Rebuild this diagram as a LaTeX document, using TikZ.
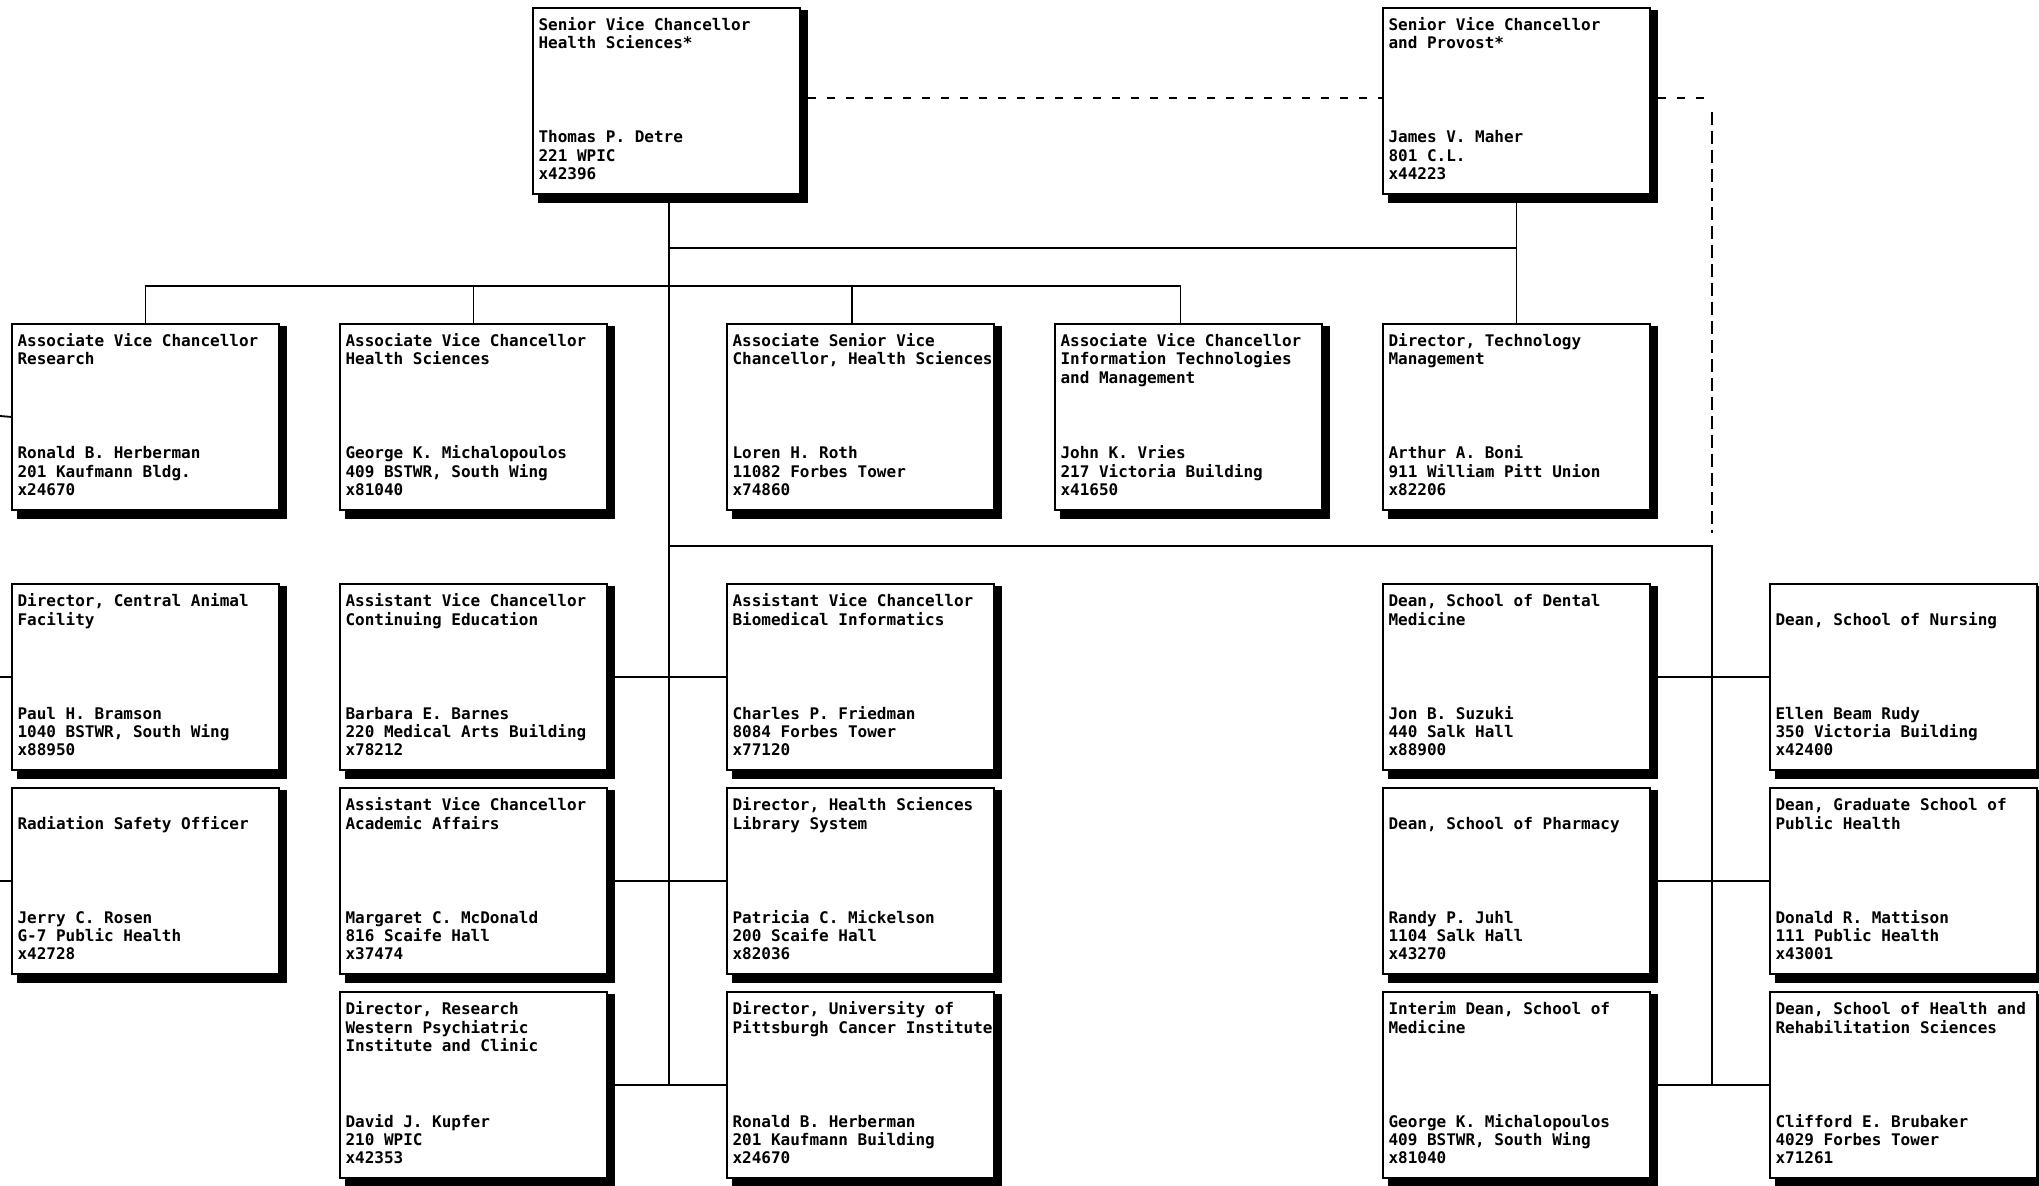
\documentclass[tikz,border=0pt]{standalone}
\usepackage{fontspec}
\newfontfamily\chartfont{DejaVu Sans Mono Bold}
\usetikzlibrary{calc}
\newcommand\bxl[1]{\hbox to 133.5pt{\kern2.75pt\vrule height9.1pt depth0pt width0pt\smash{#1}\hss}}
\newcommand\orgbox[5]{%
  \fill[black,shift={(#2,#3)}] (5,2) rectangle (275,195);
  \node[orgnode,anchor=north west] (#1) at (#2,#3)
    {\vbox to 93pt{\offinterlineskip\kern2.3pt #4\vfill #5\kern7.3pt}};
}
\tikzset{
  orgnode/.style={draw=black,fill=white,line width=0.6pt,inner sep=0pt,outer sep=0pt,
    font={\chartfont\fontsize{8pt}{9.1pt}\selectfont}},
  conn/.style={line width=0.9pt,black},
  dashH/.style={line width=0.65pt,black,dash pattern=on 4pt off 5.5pt},
  dashV/.style={line width=0.75pt,black,dash pattern=on 6.5pt off 3pt}
}
\begin{document}
\begin{tikzpicture}[x=0.5pt,y=-0.5pt]
\fill[white] (0,0) rectangle (2039,1186);
\useasboundingbox (0,0) rectangle (2039,1186);

% top level
\orgbox{A}{533}{8}{\bxl{Senior Vice Chancellor}\bxl{Health Sciences*}}{\bxl{Thomas P. Detre}\bxl{221 WPIC}\bxl{x42396}}
\orgbox{B}{1383}{8}{\bxl{Senior Vice Chancellor}\bxl{and Provost*}}{\bxl{James V. Maher}\bxl{801 C.L.}\bxl{x44223}}

% row 2
\orgbox{R1}{12}{324}{\bxl{Associate Vice Chancellor}\bxl{Research}}{\bxl{Ronald B. Herberman}\bxl{201 Kaufmann Bldg.}\bxl{x24670}}
\orgbox{R2}{340}{324}{\bxl{Associate Vice Chancellor}\bxl{Health Sciences}}{\bxl{George K. Michalopoulos}\bxl{409 BSTWR, South Wing}\bxl{x81040}}
\orgbox{R3}{727}{324}{\bxl{Associate Senior Vice}\bxl{Chancellor, Health Sciences}}{\bxl{Loren H. Roth}\bxl{11082 Forbes Tower}\bxl{x74860}}
\orgbox{R4}{1055}{324}{\bxl{Associate Vice Chancellor}\bxl{Information Technologies}\bxl{and Management}}{\bxl{John K. Vries}\bxl{217 Victoria Building}\bxl{x41650}}
\orgbox{R5}{1383}{324}{\bxl{Director, Technology}\bxl{Management}}{\bxl{Arthur A. Boni}\bxl{911 William Pitt Union}\bxl{x82206}}

% row 3
\orgbox{La}{12}{584}{\bxl{Director, Central Animal}\bxl{Facility}}{\bxl{Paul H. Bramson}\bxl{1040 BSTWR, South Wing}\bxl{x88950}}
\orgbox{Ma}{340}{584}{\bxl{Assistant Vice Chancellor}\bxl{Continuing Education}}{\bxl{Barbara E. Barnes}\bxl{220 Medical Arts Building}\bxl{x78212}}
\orgbox{Na}{727}{584}{\bxl{Assistant Vice Chancellor}\bxl{Biomedical Informatics}}{\bxl{Charles P. Friedman}\bxl{8084 Forbes Tower}\bxl{x77120}}
\orgbox{Pa}{1383}{584}{\bxl{Dean, School of Dental}\bxl{Medicine}}{\bxl{Jon B. Suzuki}\bxl{440 Salk Hall}\bxl{x88900}}
\orgbox{Qa}{1770}{584}{\bxl{}\bxl{Dean, School of Nursing}}{\bxl{Ellen Beam Rudy}\bxl{350 Victoria Building}\bxl{x42400}}

% row 4
\orgbox{Lb}{12}{788}{\bxl{}\bxl{Radiation Safety Officer}}{\bxl{Jerry C. Rosen}\bxl{G-7 Public Health}\bxl{x42728}}
\orgbox{Mb}{340}{788}{\bxl{Assistant Vice Chancellor}\bxl{Academic Affairs}}{\bxl{Margaret C. McDonald}\bxl{816 Scaife Hall}\bxl{x37474}}
\orgbox{Nb}{727}{788}{\bxl{Director, Health Sciences}\bxl{Library System}}{\bxl{Patricia C. Mickelson}\bxl{200 Scaife Hall}\bxl{x82036}}
\orgbox{Pb}{1383}{788}{\bxl{}\bxl{Dean, School of Pharmacy}}{\bxl{Randy P. Juhl}\bxl{1104 Salk Hall}\bxl{x43270}}
\orgbox{Qb}{1770}{788}{\bxl{Dean, Graduate School of}\bxl{Public Health}}{\bxl{Donald R. Mattison}\bxl{111 Public Health}\bxl{x43001}}

% row 5
\orgbox{Mc}{340}{992}{\bxl{Director, Research}\bxl{Western Psychiatric}\bxl{Institute and Clinic}}{\bxl{David J. Kupfer}\bxl{210 WPIC}\bxl{x42353}}
\orgbox{Nc}{727}{992}{\bxl{Director, University of}\bxl{Pittsburgh Cancer Institute}}{\bxl{Ronald B. Herberman}\bxl{201 Kaufmann Building}\bxl{x24670}}
\orgbox{Pc}{1383}{992}{\bxl{Interim Dean, School of}\bxl{Medicine}}{\bxl{George K. Michalopoulos}\bxl{409 BSTWR, South Wing}\bxl{x81040}}
\orgbox{Qc}{1770}{992}{\bxl{Dean, School of Health and}\bxl{Rehabilitation Sciences}}{\bxl{Clifford E. Brubaker}\bxl{4029 Forbes Tower}\bxl{x71261}}

% helper coordinates
\coordinate (busB) at (0,248);
\coordinate (busA) at (0,286);
\coordinate (busC) at (0,546);
\coordinate (tr) at ([xshift=1.25pt]A.south);
\coordinate (R3drop) at ([xshift=-4.25pt]R3.north);
\coordinate (R4drop) at ([xshift=-4pt]R4.north);
\coordinate (rt) at (1712,546);
\coordinate (e1) at (0,416);
\coordinate (e2) at (0,677);
\coordinate (e3) at (0,881);

% solid connectors
\draw[conn] (tr) -- (tr |- Mc.east);
\draw[conn] (tr |- busB) -- (B.south |- busB);
\draw[conn] (B.south) -- (R5.north);
\draw[conn] (R1.north) -- (R1.north |- busA) -- (R4drop |- busA) -- (R4drop);
\draw[conn] (R2.north) -- (R2.north |- busA);
\draw[conn] (R3drop) -- (R3drop |- busA);
\draw[conn] (tr |- busC) -- (rt) -- (rt |- Pc.east);
\draw[conn] (Ma.east) -- (Na.west);
\draw[conn] (Mb.east) -- (Nb.west);
\draw[conn] (Mc.east) -- (Nc.west);
\draw[conn] (Pa.east) -- (Qa.west);
\draw[conn] (Pb.east) -- (Qb.west);
\draw[conn] (Pc.east) -- (Qc.west);
\draw[conn] (e1) -- (R1.west);
\draw[conn] (e2) -- (La.west);
\draw[conn] (e3) -- (Lb.west);

% dashed connectors
\coordinate (dA) at ([xshift=4pt,yshift=1.5pt]A.east);
\coordinate (dB) at ([xshift=4pt,yshift=1.5pt]B.east);
\coordinate (dc1) at (1707,98);
\coordinate (dc2) at (1712,112);
\coordinate (dc3) at (1712,533);
\draw[dashH] (dA) -- ([yshift=1.5pt]B.west);
\draw[dashH] (dB) -- (dc1);
\draw[dashV] (dc2) -- (dc3);
\end{tikzpicture}
\end{document}
